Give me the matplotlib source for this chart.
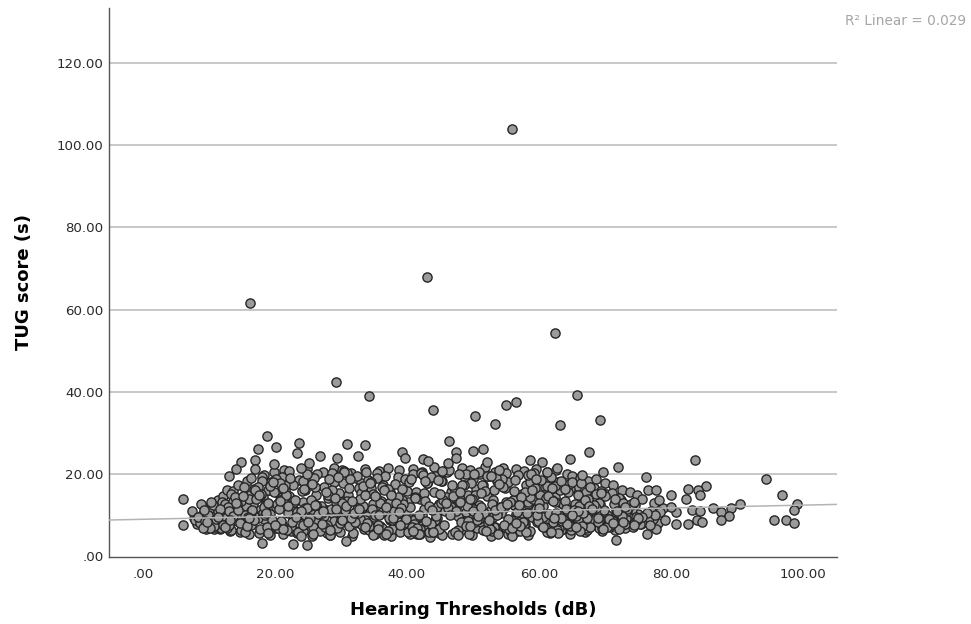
"""TUG score against hearing thresholds: scatter with linear fit."""

import matplotlib

matplotlib.use("Agg")
import matplotlib.pyplot as plt

# Points that stand clear of the main cloud
OUTLIER_X = [56.0, 43.0, 16.2, 62.5, 29.3, 34.3, 65.8, 44.0, 56.5, 55.0, 50.3, 53.3,
             63.2, 69.3, 18.8, 46.4, 23.7, 30.9, 33.7, 20.2, 17.4, 67.6, 83.6, 94.4,
             96.8, 99.1, 98.7, 95.6, 97.5, 98.7, 90.5, 89.2, 86.4, 87.6, 88.9, 87.6,
             85.4, 84.1, 84.4, 82.6, 82.3, 80.0, 83.2, 84.4, 84.0, 84.8, 82.6, 80.8,
             80.8, 76.2, 76.5, 77.8, 78.2, 80.0, 72.0, 69.8, 71.7, 76.4, 77.7, 76.8,
             74.5, 6.0, 6.0, 23.4, 26.8, 29.4, 32.6, 39.3, 39.7, 42.5, 43.2, 47.5,
             47.5, 46.2, 50.0, 14.9, 14.1, 17.0, 17.0, 13.1, 19.8, 24.0, 25.2, 18.1,
             22.7, 24.8, 30.8, 60.5, 58.7, 51.5, 52.2, 64.8, 62.8, 66.5]
OUTLIER_Y = [104.0, 68.0, 61.5, 54.2, 42.5, 39.0, 39.3, 35.5, 37.5, 36.8, 34.0, 32.2,
             32.0, 33.2, 29.3, 28.0, 27.5, 27.3, 27.0, 26.5, 26.1, 25.3, 23.3, 18.7,
             14.9, 12.8, 11.2, 8.9, 8.7, 8.0, 12.8, 11.8, 11.8, 10.8, 9.7, 8.9,
             17.0, 16.0, 15.0, 16.4, 13.8, 15.0, 11.2, 11.0, 8.9, 8.3, 7.8, 10.8,
             7.8, 19.2, 16.0, 16.2, 13.6, 12.0, 21.8, 20.4, 4.0, 5.4, 6.5, 7.5,
             7.5, 13.9, 7.5, 25.0, 24.4, 23.9, 24.3, 25.3, 24.0, 23.6, 23.1, 25.4,
             24.0, 22.6, 25.6, 22.9, 21.2, 23.5, 21.3, 19.4, 22.4, 21.5, 22.6, 3.1,
             3.0, 2.8, 3.8, 23.0, 23.4, 26.0, 22.8, 23.6, 21.5, 19.8]

# Main cloud in sweeps across the hearing range
CLOUD_X = [
    8.2, 14.5, 20.3, 26.8, 33.1, 39.6, 45.2, 51.7, 57.4, 63.9, 69.3, 75.1,
    9.6, 16.1, 22.4, 28.2, 35.0, 41.3, 47.8, 53.2, 59.6, 65.2, 71.4, 77.3,
    11.2, 17.7, 24.1, 30.6, 36.7, 43.4, 49.1, 55.8, 61.3, 67.5, 72.9, 78.4,
    7.4, 13.3, 19.2, 25.5, 31.9, 38.2, 44.6, 50.4, 56.9, 62.7, 68.8, 74.2,
    10.4, 15.2, 21.6, 27.4, 34.2, 40.5, 46.7, 52.9, 58.3, 64.6, 70.7, 76.1,
    12.1, 18.5, 23.3, 29.7, 36.0, 42.2, 48.5, 54.4, 60.7, 66.3, 71.9, 73.6,
    8.9, 13.9, 20.9, 26.1, 32.6, 38.9, 45.9, 51.1, 57.8, 63.2, 69.9, 75.8,
    10.9, 16.8, 22.9, 28.9, 35.4, 41.8, 47.2, 53.8, 59.1, 65.7, 70.2, 77.0,
    9.2, 15.7, 19.8, 25.1, 31.2, 37.5, 43.9, 49.7, 55.3, 61.9, 67.1, 72.4,
    12.7, 17.2, 24.6, 30.1, 33.8, 40.1, 46.3, 52.3, 58.9, 64.1, 68.3, 74.7,
    11.6, 14.8, 21.1, 27.9, 34.7, 39.2, 44.3, 50.9, 56.2, 62.2, 66.9, 73.1,
    7.9, 18.1, 23.7, 29.2, 37.1, 42.8, 48.9, 54.9, 60.2, 65.0, 69.6, 76.7,
    10.1, 16.4, 22.1, 26.4, 32.2, 38.5, 45.5, 51.4, 57.1, 63.5, 68.1, 71.1,
    13.0, 19.5, 25.8, 31.5, 36.3, 41.1, 47.5, 53.5, 59.9, 66.0, 70.5, 75.4,
    8.6, 14.2, 20.6, 28.5, 35.7, 43.1, 49.4, 55.1, 61.6, 64.4, 72.2, 77.6,
    11.9, 17.4, 24.3, 27.1, 33.4, 39.9, 46.1, 52.6, 58.6, 62.4, 67.8, 73.9,
    9.9, 15.5, 21.9, 30.3, 37.8, 44.1, 50.1, 56.4, 60.9, 65.5, 71.6, 74.4,
    12.4, 18.8, 23.1, 29.4, 34.5, 40.8, 47.0, 53.0, 59.3, 63.0, 69.1, 76.4,
    8.4, 16.6, 20.1, 25.3, 32.9, 38.0, 44.9, 51.9, 57.6, 62.0, 66.6, 70.9,
    10.7, 13.6, 22.7, 28.7, 36.5, 42.5, 48.2, 54.1, 60.4, 64.9, 68.6, 72.7,
    14.0, 19.0, 24.9, 31.0, 35.2, 41.5, 46.9, 50.6, 56.7, 61.1, 67.3, 74.9,
    11.4, 15.9, 21.4, 27.6, 33.6, 39.4, 45.7, 52.1, 58.1, 63.7, 69.5, 73.3,
    9.4, 17.9, 23.5, 30.8, 37.3, 43.7, 49.9, 55.5, 59.4, 66.1, 70.1, 75.6,
    12.9, 14.7, 20.4, 26.6, 32.4, 38.7, 44.4, 51.3, 57.2, 62.6, 68.4, 71.5,
    10.2, 18.3, 22.2, 29.9, 34.9, 40.3, 47.3, 53.6, 60.1, 64.3, 67.7, 72.1,
    13.5, 16.3, 24.4, 28.0, 36.2, 42.0, 48.7, 54.7, 58.4, 65.3, 69.0, 73.4,
    8.8, 15.1, 21.3, 25.9, 31.7, 37.9, 43.3, 50.2, 56.0, 61.4, 66.7, 70.4,
    11.1, 19.3, 23.9, 27.2, 33.3, 39.0, 45.0, 49.3, 55.6, 62.9, 68.9, 74.0,
    9.1, 13.1, 20.7, 26.3, 30.4, 36.9, 41.6, 46.4, 52.4, 57.9, 64.7, 71.3,
    12.2, 17.0, 22.6, 29.1, 35.6, 40.7, 48.1, 51.6, 59.7, 63.4, 67.4, 72.6,
    10.6, 15.4, 24.8, 28.4, 32.0, 37.2, 43.6, 49.6, 54.6, 60.6, 65.9, 70.0,
    13.7, 18.6, 21.7, 25.6, 34.0, 38.4, 44.7, 47.7, 53.3, 58.8, 64.2, 69.7,
    9.7, 16.9, 22.0, 30.0, 36.6, 41.9, 46.6, 52.7, 57.3, 61.8, 66.4, 71.8,
    11.7, 14.4, 24.2, 27.7, 31.4, 39.1, 45.4, 50.8, 55.9, 63.3, 67.0, 72.8,
    12.5, 19.7, 20.8, 26.0, 33.7, 37.6, 42.9, 48.3, 54.2, 59.5, 65.1, 68.7,
    10.3, 15.8, 23.2, 29.5, 35.1, 40.9, 47.9, 51.2, 56.6, 62.1, 64.0, 70.6,
    13.2, 17.6, 21.2, 28.3, 32.7, 38.8, 44.0, 49.0, 53.9, 60.0, 66.2, 71.2,
    9.3, 16.0, 24.0, 27.3, 34.4, 41.2, 46.0, 52.0, 58.2, 61.2, 67.6, 73.0,
    11.3, 18.9, 22.3, 30.2, 36.8, 42.7, 48.0, 55.2, 59.0, 65.6, 69.4, 75.0,
    14.1, 20.0, 25.0, 31.3, 35.8, 43.8, 49.5, 54.0, 57.0, 62.3, 68.0, 74.5,
]
CLOUD_Y = [
    7.8, 9.4, 12.6, 6.2, 15.3, 8.1, 18.2, 10.4, 6.7, 13.5, 8.9, 10.2,
    10.6, 13.8, 7.1, 18.7, 9.6, 14.4, 6.3, 16.2, 11.5, 7.4, 12.8, 9.1,
    8.4, 6.5, 15.9, 11.2, 19.4, 5.8, 12.3, 8.7, 17.1, 10.8, 7.9, 10.7,
    11.1, 15.2, 10.3, 13.7, 5.6, 17.6, 9.2, 14.9, 19.8, 6.4, 14.1, 11.6,
    12.2, 7.2, 17.4, 9.8, 7.4, 11.9, 15.6, 6.1, 13.2, 17.5, 7.6, 8.8,
    9.7, 12.4, 5.7, 15.4, 12.9, 20.3, 8.2, 18.9, 9.5, 12.7, 9.9, 12.1,
    9.2, 11.7, 8.6, 16.9, 10.5, 6.0, 14.3, 20.1, 7.7, 16.1, 11.3, 8.2,
    7.2, 16.3, 13.1, 8.5, 19.1, 9.9, 16.7, 5.5, 13.9, 9.7, 15.1, 11.0,
    12.0, 8.2, 15.7, 19.6, 7.3, 13.3, 6.6, 17.9, 9.1, 19.3, 6.9, 13.6,
    6.9, 14.0, 10.1, 13.0, 20.4, 5.9, 11.8, 8.0, 15.8, 11.4, 16.6, 9.6,
    10.9, 6.3, 19.2, 7.5, 11.4, 16.4, 8.9, 20.6, 12.5, 8.3, 10.7, 7.8,
    8.9, 18.3, 8.0, 11.6, 6.1, 13.4, 19.9, 7.0, 14.8, 18.0, 6.8, 9.4,
    11.8, 10.8, 14.7, 20.0, 8.4, 10.2, 13.6, 17.2, 6.2, 8.6, 12.2, 15.4,
    7.5, 8.9, 5.3, 9.3, 16.8, 7.8, 11.1, 19.0, 8.5, 15.0, 9.0, 7.9,
    8.1, 12.6, 11.5, 14.6, 7.7, 17.7, 5.4, 13.2, 10.3, 8.0, 14.2, 9.9,
    6.8, 16.9, 18.4, 10.6, 12.1, 9.0, 20.5, 6.6, 14.5, 17.0, 7.2, 12.4,
    10.0, 10.1, 6.4, 17.8, 8.8, 15.5, 10.9, 18.5, 7.1, 12.6, 8.6, 8.1,
    12.8, 7.0, 13.6, 6.8, 18.1, 7.0, 14.6, 9.5, 20.2, 10.1, 13.0, 10.4,
    9.5, 11.3, 18.8, 9.4, 13.8, 11.0, 6.5, 15.9, 8.3, 16.6, 7.3, 7.6,
    7.4, 13.5, 9.0, 16.0, 5.2, 19.7, 8.4, 12.0, 18.6, 6.4, 11.7, 12.9,
    14.4, 5.6, 11.7, 20.2, 10.0, 6.8, 17.3, 8.8, 10.8, 14.1, 9.3, 8.7,
    11.0, 9.6, 14.2, 7.2, 15.0, 12.8, 7.6, 19.5, 5.9, 9.1, 15.8, 11.1,
    8.6, 15.1, 5.9, 12.3, 9.3, 19.2, 13.9, 6.7, 16.5, 12.3, 7.0, 9.5,
    11.9, 8.0, 6.8, 10.3, 19.5, 14.3, 9.8, 15.3, 7.4, 10.5, 12.5, 14.0,
    6.9, 12.0, 20.7, 8.1, 5.1, 18.0, 6.0, 10.1, 12.9, 7.9, 16.8, 6.7,
    10.4, 7.5, 16.4, 14.9, 10.7, 5.4, 17.2, 7.7, 19.7, 11.2, 8.3, 11.5,
    12.7, 14.6, 6.6, 19.0, 13.5, 9.2, 12.2, 20.0, 5.0, 14.7, 10.6, 7.2,
    9.0, 17.0, 11.0, 7.9, 17.1, 7.6, 15.2, 8.5, 13.1, 5.7, 9.2, 12.6,
    6.9, 10.9, 17.7, 12.5, 20.5, 12.0, 5.5, 21.0, 8.9, 15.6, 7.3, 8.5,
    7.6, 16.0, 8.3, 14.2, 6.6, 18.8, 13.3, 6.3, 9.9, 18.2, 13.8, 9.8,
    12.5, 6.0, 19.9, 5.1, 10.4, 16.3, 7.9, 14.0, 16.9, 7.1, 11.0, 14.6,
    9.8, 10.5, 15.0, 17.6, 8.0, 13.0, 18.6, 5.2, 11.3, 20.1, 7.8, 6.5,
    8.3, 8.8, 12.1, 9.0, 16.2, 5.3, 10.0, 19.4, 14.3, 6.0, 17.8, 10.9,
    11.4, 11.2, 7.7, 15.7, 18.9, 11.7, 20.8, 9.7, 6.9, 9.3, 13.7, 8.4,
    7.1, 18.0, 13.4, 12.4, 7.1, 15.0, 8.6, 17.4, 12.0, 18.7, 10.0, 15.2,
    13.3, 7.3, 9.6, 19.3, 14.7, 6.2, 20.0, 11.9, 8.0, 13.4, 16.3, 9.0,
    8.8, 14.8, 16.6, 6.4, 11.6, 10.7, 5.8, 7.4, 17.5, 11.8, 6.2, 8.0,
    11.3, 9.3, 5.0, 10.9, 17.9, 14.1, 13.0, 6.1, 10.5, 20.4, 12.1, 11.9,
    9.6, 12.9, 19.0, 8.7, 5.5, 18.3, 15.5, 12.7, 16.0, 7.0, 15.3, 9.2,
    13.0, 7.7, 8.3, 16.5, 9.9, 11.3, 7.4, 20.9, 12.4, 9.4, 11.6, 13.1,
]

# Second reading of the dense part of the cloud
DENSE_X = [
    17.1, 23.6, 29.8, 35.5, 41.4, 47.6, 53.7, 59.8, 64.5, 19.4, 26.2, 32.3,
    38.1, 44.2, 50.5, 56.1, 61.5, 67.2, 16.7, 22.8, 28.6, 34.6, 40.2, 46.2,
    52.2, 58.0, 63.6, 18.2, 25.2, 31.1, 36.4, 42.6, 48.8, 54.8, 60.3, 65.8,
    20.5, 27.0, 33.0, 39.3, 45.3, 51.0, 57.5, 62.8, 68.2, 15.3, 21.8, 28.1,
    34.1, 40.0, 46.5, 52.5, 58.5, 64.8, 17.8, 24.5, 30.5, 37.0, 43.0, 49.2,
    55.0, 61.0, 66.8, 19.1, 26.5, 32.8, 38.6, 44.8, 50.0, 56.3, 62.5, 69.2,
    16.2, 23.0, 29.0, 35.3, 41.0, 47.1, 53.1, 59.2, 65.4, 18.0, 25.7, 31.6,
    37.4, 43.2, 49.8, 55.4, 60.8, 67.9, 20.2, 27.5, 33.2, 39.7, 45.6, 51.5,
    57.7, 63.1, 68.5, 14.6, 21.5, 28.8, 34.8, 40.6, 46.8, 52.8, 58.6, 64.6,
    12.3, 16.5, 22.5, 30.7, 36.1, 42.4, 48.4, 54.5, 60.5, 66.5, 70.3, 74.1,
    9.8, 13.4, 18.4, 24.7, 31.8, 37.7, 43.5, 49.2, 55.7, 61.7, 65.0, 71.0,
    11.0, 15.0, 19.9, 26.9, 33.5, 39.5, 44.5, 50.7, 56.8, 62.9, 67.3, 72.3,
    8.0, 12.6, 17.3, 23.4, 29.6, 35.9, 41.7, 47.4, 53.4, 59.6, 64.1, 69.8,
    10.5, 14.3, 20.2, 25.4, 32.1, 38.3, 44.5, 50.3, 56.5, 61.3, 66.0, 70.8,
    7.7, 11.5, 16.2, 22.0, 27.8, 33.9, 39.8, 45.8, 51.8, 57.4, 63.8, 68.2,
    9.0, 13.8, 18.7, 24.2, 30.9, 36.3, 42.3, 48.6, 54.3, 60.3, 65.3, 73.7,
    10.8, 15.6, 21.0, 26.7, 32.5, 37.4, 43.1, 49.7, 55.5, 58.9, 64.9, 71.7,
    12.0, 17.5, 23.8, 28.1, 34.3, 40.4, 46.4, 51.1, 57.9, 63.6, 67.5, 72.5,
    14.9, 19.6, 25.3, 30.6, 35.6, 41.8, 47.8, 52.9, 59.0, 62.0, 68.9, 75.2,
    13.9, 18.2, 22.6, 27.3, 33.2, 38.9, 44.8, 50.0, 54.5, 60.7, 66.3, 73.2,
    16.3, 21.1, 26.0, 31.0, 36.9, 42.0, 48.9, 53.2, 58.3, 61.9, 69.3, 72.0,
    15.4, 20.5, 24.6, 29.9, 34.9, 39.2, 45.1, 51.3, 56.4, 62.4, 64.4, 70.3,
    11.8, 17.7, 22.9, 28.5, 33.7, 38.6, 43.9, 47.2, 52.4, 57.3, 63.3, 67.8,
    13.4, 19.0, 25.7, 30.3, 35.2, 41.1, 46.7, 50.9, 55.8, 59.8, 65.7, 69.1,
    16.9, 20.8, 23.4, 27.9, 32.9, 37.8, 42.6, 48.2, 53.6, 58.7, 61.4, 66.9,
    15.1, 18.5, 24.3, 29.3, 34.5, 39.9, 45.3, 49.4, 54.9, 60.1, 63.1, 68.4,
]
DENSE_Y = [
    16.4, 18.6, 13.4, 20.2, 15.7, 12.9, 18.4, 14.6, 16.2, 18.1, 15.0, 19.0,
    13.9, 19.4, 16.4, 13.6, 18.9, 15.5, 12.7, 17.2, 20.3, 16.6, 13.1, 20.7,
    14.7, 17.2, 12.8, 14.5, 19.2, 14.9, 17.3, 15.4, 19.0, 16.6, 12.7, 17.1,
    15.4, 12.2, 17.8, 13.6, 18.3, 12.5, 15.1, 18.1, 11.2, 16.8, 19.7, 14.1,
    18.6, 15.8, 13.5, 19.6, 12.4, 16.3, 11.2, 16.0, 20.7, 12.8, 17.9, 14.8,
    20.3, 16.8, 13.3, 16.0, 11.6, 16.7, 19.2, 12.6, 18.8, 15.9, 14.4, 12.8,
    15.0, 11.0, 18.1, 14.5, 20.0, 16.6, 13.7, 18.5, 11.9, 19.2, 13.0, 20.2,
    15.6, 18.4, 11.5, 18.1, 14.9, 13.6, 12.0, 16.9, 11.7, 18.9, 13.1, 17.4,
    11.8, 16.7, 14.8, 11.6, 16.2, 10.2, 15.2, 9.2, 16.0, 11.3, 18.0, 9.4,
    7.0, 10.0, 6.1, 8.3, 10.6, 7.5, 9.3, 11.5, 7.4, 9.1, 10.0, 8.2,
    8.0, 6.4, 9.0, 6.7, 9.4, 11.1, 7.0, 10.3, 6.8, 8.8, 10.7, 8.9,
    9.9, 11.8, 7.6, 10.0, 6.5, 8.0, 10.8, 6.9, 9.4, 7.9, 6.4, 10.5,
    8.7, 9.1, 9.8, 8.9, 10.9, 7.3, 9.5, 11.7, 7.0, 9.0, 10.9, 8.4,
    7.2, 8.5, 6.9, 11.2, 8.1, 10.5, 12.0, 8.3, 10.2, 6.0, 8.7, 7.0,
    9.4, 7.7, 8.1, 10.6, 7.2, 9.8, 8.4, 10.9, 7.9, 9.5, 7.3, 9.3,
    10.1, 10.9, 11.0, 7.9, 12.6, 6.9, 10.1, 8.5, 10.6, 8.4, 11.9, 9.8,
    6.6, 12.2, 7.5, 9.6, 11.4, 8.8, 6.4, 12.2, 8.0, 11.3, 6.8, 11.2,
    13.1, 9.2, 9.3, 11.0, 6.4, 9.0, 12.6, 9.9, 7.8, 6.6, 9.2, 8.6,
    13.4, 7.4, 12.1, 8.6, 11.6, 6.3, 9.7, 12.8, 9.6, 13.7, 8.1, 9.3,
    13.0, 10.6, 13.8, 10.4, 7.5, 12.6, 5.6, 11.6, 7.1, 12.2, 10.7, 9.0,
    11.0, 14.5, 8.8, 13.5, 11.2, 6.7, 10.7, 7.0, 12.8, 6.8, 7.8, 11.3,
    9.2, 7.6, 11.8, 6.0, 12.6, 10.2, 13.0, 8.3, 5.8, 13.3, 15.5, 7.4,
    9.5, 14.7, 8.4, 11.4, 8.8, 12.3, 5.9, 11.9, 8.2, 10.4, 6.3, 11.6,
    10.7, 16.2, 7.2, 9.5, 5.4, 8.7, 12.0, 9.1, 5.6, 8.3, 10.3, 6.9,
    9.8, 13.7, 10.8, 5.7, 9.1, 6.5, 11.6, 6.4, 10.5, 6.2, 8.1, 12.5,
    8.5, 9.9, 6.2, 13.1, 7.1, 10.9, 5.2, 7.8, 12.1, 11.0, 6.9, 8.8,
]

# Upper edge of the cloud and its left and right shoulders
EDGE_X = [
    21.4, 24.9, 27.3, 28.9, 30.2, 33.6, 35.8, 37.2, 38.8, 40.9, 42.3, 44.1,
    45.7, 48.3, 49.6, 51.8, 53.4, 54.6, 56.6, 57.8, 59.5, 61.2, 62.6, 64.2,
    65.1, 66.2, 67.4, 68.6, 70.0, 71.2, 72.6, 73.8, 74.9, 75.7, 77.5, 78.9,
    9.1, 10.2, 11.3, 12.1, 12.8, 13.7, 14.4, 15.8, 16.4, 18.3, 19.9, 22.2,
    25.6, 28.4, 31.7, 34.8, 37.6, 40.4, 43.5, 46.9, 49.8, 52.7, 55.3, 58.4,
    61.7, 64.7, 67.0, 69.6, 71.5, 73.1, 74.3, 75.5, 78.0, 79.2, 9.5, 11.7,
    13.2, 14.7, 16.0, 17.6, 19.2, 21.3, 24.2, 27.5, 30.7, 33.2, 36.1, 39.1,
    42.0, 45.0, 48.1, 50.8, 54.3, 57.2, 60.1, 63.3, 66.4, 68.9, 71.9, 74.6,
]
EDGE_Y = [
    20.9, 21.2, 20.6, 21.4, 21.0, 21.3, 20.7, 21.5, 20.9, 21.2, 20.5, 21.6,
    20.8, 21.4, 21.0, 21.7, 20.6, 21.5, 21.1, 20.8, 21.3, 20.4, 20.9, 20.0,
    19.5, 19.0, 18.4, 18.8, 17.9, 17.3, 16.2, 15.5, 14.8, 13.9, 12.9, 11.8,
    10.3, 12.0, 13.6, 14.7, 16.1, 15.9, 17.2, 18.4, 19.1, 19.8, 20.4, 18.9,
    4.9, 5.2, 4.8, 5.4, 5.0, 5.3, 4.7, 5.5, 5.1, 4.9, 5.3, 5.2,
    5.6, 5.4, 5.9, 6.1, 6.3, 6.9, 7.2, 7.8, 8.1, 8.9, 6.6, 6.7,
    6.2, 6.0, 5.4, 5.7, 5.1, 5.5, 13.2, 11.5, 14.6, 10.8, 13.5, 11.2,
    13.9, 11.4, 13.8, 12.1, 11.1, 14.2, 11.9, 13.0, 14.9, 12.7, 14.2, 12.4,
]

FIT_X = [-5.15, 105.2]
FIT_Y = [8.8, 12.6]

X_TICKS = [0, 20, 40, 60, 80, 100]
X_TICK_LABELS = [".00", "20.00", "40.00", "60.00", "80.00", "100.00"]
Y_TICKS = [0, 20, 40, 60, 80, 100, 120]
Y_TICK_LABELS = [".00", "20.00", "40.00", "60.00", "80.00", "100.00", "120.00"]

WIDTH_PX = 971
HEIGHT_PX = 624

plt.rcParams["font.family"] = ["DejaVu Sans"]

fig = plt.figure(figsize=(WIDTH_PX / 100, HEIGHT_PX / 100), dpi=100)
ax = fig.add_axes([109 / WIDTH_PX, 1 - 557 / HEIGHT_PX, 728 / WIDTH_PX, 549 / HEIGHT_PX])

ax.set_xlim(-5.15, 105.2)
ax.set_ylim(-0.2, 133.4)

# gridlines sit behind the dots, the fit line on top of them
for tick in Y_TICKS[1:]:
    ax.axhline(tick, color="#c4c4c4", linewidth=1.3, zorder=1)

marker_style = dict(s=44, facecolor="#9b9b9b", edgecolor="#262626", linewidth=1.0, zorder=2)
ax.scatter(EDGE_X, EDGE_Y, **marker_style)
ax.scatter(DENSE_X, DENSE_Y, **marker_style)
ax.scatter(CLOUD_X, CLOUD_Y, **marker_style)
ax.scatter(OUTLIER_X, OUTLIER_Y, **marker_style)
ax.plot(FIT_X, FIT_Y, color="#b4b4b4", linewidth=1.1, zorder=3)

for side in ("top", "right"):
    ax.spines[side].set_visible(False)
for side in ("left", "bottom"):
    ax.spines[side].set_color("#555555")
    ax.spines[side].set_linewidth(1.0)

ax.set_xticks(X_TICKS, X_TICK_LABELS)
ax.set_yticks(Y_TICKS, Y_TICK_LABELS)
ax.tick_params(length=0, labelsize=9.6, labelcolor="#2a2a2a")
ax.tick_params(axis="x", pad=8)
ax.tick_params(axis="y", pad=4)

ax.set_xlabel("Hearing Thresholds (dB)", fontsize=13, fontweight="bold", labelpad=14)
ax.set_ylabel("TUG score (s)", fontsize=13, fontweight="bold", labelpad=17)

fig.text(845 / WIDTH_PX, 1 - 21 / HEIGHT_PX, "R² Linear = 0.029", fontsize=9.8,
         color="#a6a6a6", va="center", ha="left")

fig.savefig("out.png", dpi=100)
